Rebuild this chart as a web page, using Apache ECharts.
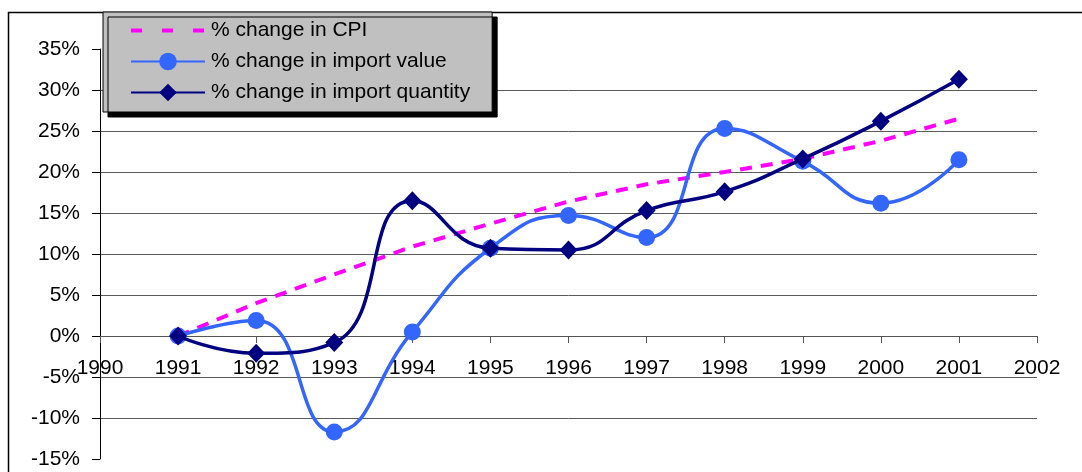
<!DOCTYPE html>
<html>
<head>
<meta charset="utf-8">
<script src="https://cdn.jsdelivr.net/npm/echarts@6/dist/echarts.min.js"></script>
<style>
  html, body { margin: 0; padding: 0; background: #fff; }
  #main { width: 1082px; height: 472px; }
</style>
</head>
<body>
<div id="main"></div>
<script>
// data (percent)
const years = [1991, 1992, 1993, 1994, 1995, 1996, 1997, 1998, 1999, 2000, 2001];
const cpi = [0, 4.0, 7.5, 10.9, 13.7, 16.4, 18.5, 20.0, 21.6, 23.8, 26.5];
const importValue = [0, 1.9, -11.7, 0.5, 10.7, 14.7, 12.0, 25.3, 21.3, 16.2, 21.5];
const importQuantity = [0, -2.1, -0.8, 16.5, 10.7, 10.5, 15.3, 17.6, 21.6, 26.2, 31.3];
const seriesNames = ['% change in CPI', '% change in import value', '% change in import quantity'];

const font = 'Liberation Sans, Arial, sans-serif';
const pairs = arr => years.map((y, i) => [y, arr[i]]);

const chart = echarts.init(document.getElementById('main'));

// x axis sits on the 0% line: grid is 410px tall for -15..35, so 0 is 123px above the bottom
const xAxisOffset = -123;

const option = {
  animation: false,
  backgroundColor: '#fff',
  textStyle: { fontFamily: font },
  graphic: [{
    type: 'rect',
    shape: { x: 8.5, y: 12.5, width: 1100, height: 500 },
    style: { fill: 'none', stroke: '#000', lineWidth: 1.5 },
    silent: true,
    z: -1
  }],
  legend: {
    data: [
      {
        name: seriesNames[0],
        itemStyle: { color: 'rgba(0,0,0,0)', borderWidth: 0 },
        lineStyle: { color: '#ff00ff', width: 4, type: [11, 20] }
      },
      { name: seriesNames[1] },
      { name: seriesNames[2] }
    ],
    orient: 'vertical',
    left: 103,
    top: 12,
    itemWidth: 74,
    itemHeight: 22,
    itemGap: 10,
    padding: [8, 22, 9, 26],
    backgroundColor: '#c0c0c0',
    borderColor: '#000',
    borderWidth: 1,
    shadowColor: '#000',
    shadowBlur: 0,
    shadowOffsetX: 5,
    shadowOffsetY: 5,
    textStyle: { fontFamily: font, fontSize: 21, color: '#000', padding: [0, 0, 0, 1] }
  },
  grid: {
    left: 100,
    right: 45,
    top: 49,
    bottom: 13,
    containLabel: false,
    outerBoundsMode: 'none'
  },
  xAxis: {
    type: 'value',
    min: 1990,
    max: 2002,
    interval: 1,
    position: 'bottom',
    offset: xAxisOffset,
    axisLine: { onZero: false, lineStyle: { color: '#555', width: 1 } },
    axisTick: { show: true, length: 7, lineStyle: { color: '#555' } },
    axisLabel: {
      margin: 22,
      fontSize: 21,
      color: '#000',
      fontFamily: font,
      formatter: v => String(v)
    },
    splitLine: { show: false }
  },
  yAxis: {
    type: 'value',
    min: -15,
    max: 35,
    interval: 5,
    axisLine: { show: true, lineStyle: { color: '#000', width: 1 } },
    axisTick: { show: true, length: 8, lineStyle: { color: '#000' } },
    axisLabel: {
      margin: 20,
      fontSize: 21,
      color: '#000',
      fontFamily: font,
      formatter: '{value}%'
    },
    splitLine: {
      show: true,
      showMinLine: false,
      showMaxLine: false,
      lineStyle: { color: '#5a5a5a', width: 1 }
    }
  },
  series: [
    {
      name: seriesNames[0],
      type: 'line',
      data: pairs(cpi),
      symbol: 'none',
      lineStyle: { color: '#ff00ff', width: 4, type: [12, 9] },
      itemStyle: { color: '#ff00ff' },
      z: 2
    },
    {
      name: seriesNames[1],
      type: 'line',
      data: pairs(importValue),
      smooth: 0.5,
      symbol: 'circle',
      symbolSize: 17,
      lineStyle: { color: '#3366ff', width: 3.5 },
      itemStyle: { color: '#3366ff' },
      z: 3
    },
    {
      name: seriesNames[2],
      type: 'line',
      data: pairs(importQuantity),
      smooth: 0.5,
      symbol: 'diamond',
      symbolSize: [18, 19],
      lineStyle: { color: '#000080', width: 3.5 },
      itemStyle: { color: '#000080' },
      z: 4
    }
  ]
};

chart.setOption(option);
</script>
</body>
</html>
